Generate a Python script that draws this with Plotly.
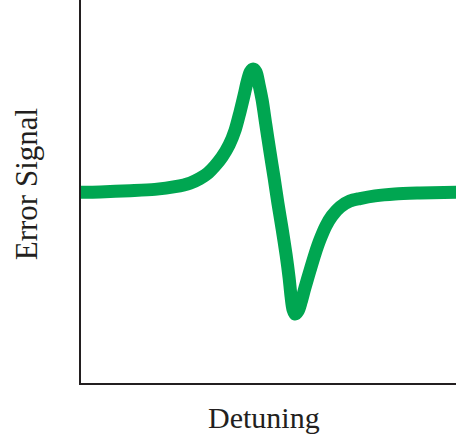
import plotly.graph_objects as go

# Detuning (arb. units) and error signal (arb. units)
detuning = [-5.21, -4.59, -3.79, -3.13, -2.59, -2.19, -1.93, -1.71, -1.53, -1.34,
            -1.15, -0.99, -0.86, -0.75, -0.67, -0.59, -0.51, -0.43, -0.35, -0.27,
            -0.17, -0.06, 0.05, 0.15, 0.26, 0.37, 0.45, 0.50, 0.55, 0.61,
            0.69, 0.77, 0.87, 1.01, 1.14, 1.27, 1.43, 1.59, 1.81, 2.07,
            2.34, 2.74, 3.27, 3.94, 5.01]
error_signal = [-0.004, -0.002, 0.004, 0.011, 0.025, 0.044, 0.068, 0.097, 0.133, 0.180,
                0.243, 0.321, 0.415, 0.504, 0.572, 0.624, 0.640, 0.624, 0.556, 0.478,
                0.347, 0.206, 0.070, -0.060, -0.191, -0.332, -0.452, -0.546, -0.614, -0.640,
                -0.624, -0.577, -0.504, -0.410, -0.326, -0.253, -0.180, -0.128, -0.081, -0.050,
                -0.037, -0.023, -0.013, -0.008, -0.003]

x_title = "Detuning"
y_title = "Error Signal"

AXIS = "#231f20"
GREEN = "#00a651"
FONT = "Liberation Serif, Times New Roman, serif"

fig = go.Figure()
fig.add_trace(go.Scatter(
    x=detuning, y=error_signal, mode="lines",
    line=dict(color=GREEN, width=13, shape="spline", smoothing=0.8),
    hoverinfo="skip", showlegend=False,
))

fig.update_layout(
    width=456, height=439,
    margin=dict(l=81, r=0, t=0, b=56),
    paper_bgcolor="white", plot_bgcolor="white",
    xaxis=dict(range=[-5.1, 4.9], showline=True, linewidth=2, linecolor=AXIS,
               showgrid=False, zeroline=False, showticklabels=False, ticks=""),
    yaxis=dict(range=[-1, 1], showline=True, linewidth=2, linecolor=AXIS,
               showgrid=False, zeroline=False, showticklabels=False, ticks=""),
    annotations=[
        dict(text=x_title, xref="paper", yref="paper", x=0.487, y=-0.043,
             xanchor="center", yanchor="top", showarrow=False,
             font=dict(family=FONT, size=30, color=AXIS)),
        dict(text=y_title, xref="paper", yref="paper", x=-0.145, y=0.518,
             xanchor="center", yanchor="middle", textangle=-90, showarrow=False,
             font=dict(family=FONT, size=31, color=AXIS)),
    ],
)

fig.write_html("out.html")
